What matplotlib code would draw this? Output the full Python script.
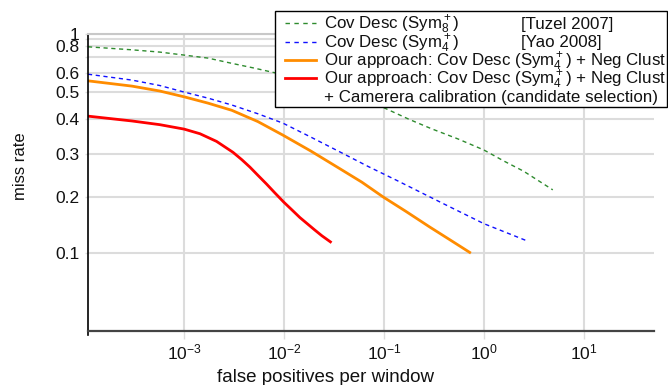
import matplotlib
matplotlib.use("Agg")
import matplotlib.pyplot as plt
import numpy as np
from matplotlib.lines import Line2D
from matplotlib.patches import Rectangle
from matplotlib.ticker import FixedLocator, FixedFormatter

plt.rcParams.update({
    "font.family": ["Liberation Sans", "DejaVu Sans"],
    "mathtext.fontset": "custom",
    "mathtext.rm": "Liberation Sans",
    "mathtext.it": "Liberation Sans:italic",
    "mathtext.bf": "Liberation Sans:bold",
})

# ── data ──────────────────────────────────────────────────────────────────────
tuzel_fppw = [1.09e-4, 3e-4, 5.7e-4, 1e-3, 1.73e-3, 3e-3, 5e-3, 8.1e-3,
              3e-2, 0.1, 0.18, 0.3, 0.55, 1.0, 1.6, 2.5, 4.9]
tuzel_miss = [0.795, 0.765, 0.743, 0.715, 0.691, 0.657, 0.628, 0.60,
              0.51, 0.44, 0.40, 0.37, 0.34, 0.31, 0.28, 0.255, 0.214]

yao_fppw = [1.09e-4, 3e-4, 5.7e-4, 1e-3, 1.73e-3, 3e-3, 5.47e-3, 9.73e-3,
            1.86e-2, 3.62e-2, 6.89e-2, 0.134, 0.404, 1.0, 2.64]
yao_miss = [0.592, 0.560, 0.532, 0.500, 0.476, 0.450, 0.419, 0.388,
            0.345, 0.305, 0.267, 0.234, 0.183, 0.144, 0.117]

neg_fppw = [1.09e-4, 3e-4, 5.7e-4, 1e-3, 1.73e-3, 3e-3, 5.47e-3, 9.73e-3,
            1.86e-2, 3.62e-2, 6.01e-2, 0.0985, 0.166, 0.288, 0.457, 0.742]
neg_miss = [0.556, 0.529, 0.505, 0.481, 0.457, 0.431, 0.393, 0.351,
            0.307, 0.261, 0.230, 0.200, 0.1675, 0.138, 0.118, 0.100]

cam_fppw = [1.09e-4, 3e-4, 5.7e-4, 1e-3, 1.44e-3, 2.11e-3, 3.08e-3, 3.78e-3,
            4.55e-3, 5.47e-3, 6.68e-3, 8.09e-3, 9.97e-3, 1.2e-2, 1.44e-2,
            2.01e-2, 2.39e-2, 2.99e-2]
cam_miss = [0.411, 0.395, 0.383, 0.369, 0.355, 0.333, 0.304, 0.284,
            0.265, 0.2454, 0.226, 0.208, 0.1875, 0.1706, 0.1553,
            0.1337, 0.124, 0.1138]

x_ticks = [1e-3, 1e-2, 1e-1, 1e0, 1e1]
x_ticklabels = ["10$^{-3}$", "10$^{-2}$", "10$^{-1}$", "10$^{0}$", "10$^{1}$"]
y_grid = [0.1, 0.2, 0.3, 0.4, 0.5, 0.6, 0.7, 0.8, 0.9, 1.0]
y_ticklabels = ["0.1", "0.2", "0.3", "0.4", "0.5", "0.6", "", "0.8", "", "1"]

# the original y axis is neither linear nor log: depth of each grid line
# below the top (1.0 -> 0, 0.1 -> -1)
y_depth = [-1.0, -0.744, -0.547, -0.390, -0.265, -0.177, -0.1038, -0.0562, -0.0229, 0.0]

GREEN = "#2e8b2e"
BLUE = "#1010ff"
ORANGE = "#ff8c00"
RED = "#ff0000"
GRID = "#dcdcdc"

W, H = 668, 385


def _pw(v, xp, fp):
    v = np.atleast_1d(np.asarray(v, float))
    out = np.interp(v, xp, fp)
    lo, hi = v < xp[0], v > xp[-1]
    out[lo] = fp[0] + (v[lo] - xp[0]) * (fp[1] - fp[0]) / (xp[1] - xp[0])
    out[hi] = fp[-1] + (v[hi] - xp[-1]) * (fp[-1] - fp[-2]) / (xp[-1] - xp[-2])
    return out


_ylog = np.log10(y_grid)


def fwd(y):
    y = np.asarray(y, float)
    return _pw(np.log10(np.clip(y, 1e-9, None)), _ylog, y_depth).reshape(y.shape)


def inv(u):
    u = np.asarray(u, float)
    return (10 ** _pw(u, y_depth, _ylog)).reshape(u.shape)


fig = plt.figure(figsize=(W / 100, H / 100), dpi=100)
ax = fig.add_axes([88 / W, 1 - 330.5 / H, (654.3 - 88) / W, (330.5 - 34) / H])
ax.set_yscale("function", functions=(fwd, inv))
ax.set_xscale("log")

ax.plot(tuzel_fppw, tuzel_miss, color=GREEN, lw=1.0, ls=(0, (3, 2.6)))
ax.plot(yao_fppw, yao_miss, color=BLUE, lw=1.0, ls=(0, (3, 2.6)))
ax.plot(neg_fppw, neg_miss, color=ORANGE, lw=2.0, solid_capstyle="butt",
        solid_joinstyle="round")
ax.plot(cam_fppw, cam_miss, color=RED, lw=2.0, solid_capstyle="butt",
        solid_joinstyle="round")

ax.set_xlim(1.09e-4, 50.9)
ax.set_ylim(float(inv(-1.353)), 1.0)

ax.xaxis.set_major_locator(FixedLocator(x_ticks))
ax.xaxis.set_major_formatter(FixedFormatter(x_ticklabels))
ax.xaxis.set_minor_locator(FixedLocator([]))
ax.yaxis.set_major_locator(FixedLocator(y_grid))
ax.yaxis.set_major_formatter(FixedFormatter(y_ticklabels))
ax.yaxis.set_minor_locator(FixedLocator([]))

ax.grid(True, color=GRID, lw=1.5, zorder=0)
ax.set_axisbelow(True)
ax.tick_params(axis="x", length=6, width=1, color=GRID, pad=3, labelsize=12.5, labelcolor="#111111")
ax.tick_params(axis="y", length=2, width=1, color=GRID, pad=4, labelsize=12.5, labelcolor="#111111")

ax.spines["right"].set_visible(False)
ax.spines["top"].set_color("#c8c8c8")
ax.spines["top"].set_linewidth(1.5)
ax.spines["left"].set_color("black")
ax.spines["left"].set_linewidth(1.2)
ax.spines["left"].set_bounds(float(inv(-1.373)), 1.0)
ax.spines["bottom"].set_color("#444444")
ax.spines["bottom"].set_linewidth(1.6)

ax.set_xlabel("false positives per window", fontsize=13.5, color="#111111")
ax.xaxis.label.set_va("center")
ax.xaxis.set_label_coords((325.6 - 88) / (654.3 - 88), -(377 - 330.5) / (330.5 - 34))
ax.set_ylabel("miss rate", fontsize=12, color="#111111")
ax.yaxis.label.set_va("center")
ax.yaxis.set_label_coords((20 - 88) / (654.3 - 88), (330.5 - 166.5) / (330.5 - 34))

# ── legend box, drawn by hand (it has a citation column and a wrapped row) ──
fx = lambda px: px / W
fy = lambda py: 1 - py / H
fig.add_artist(Rectangle((fx(275), fy(107)), fx(667) - fx(275), fy(11) - fy(107),
                         transform=fig.transFigure, facecolor="white",
                         edgecolor="black", lw=1.0, zorder=5))

legend_rows = [
    (GREEN, 1.0, (0, (3.2, 3.2)), r"Cov Desc ($\mathregular{Sym}_8^+$)", "[Tuzel 2007]"),
    (BLUE, 1.0, (0, (3.2, 3.2)), r"Cov Desc ($\mathregular{Sym}_4^+$)", "[Yao 2008]"),
    (ORANGE, 2.0, "-", r"Our approach: Cov Desc ($\mathregular{Sym}_4^+$) + Neg Clust", ""),
    (RED, 2.0, "-", r"Our approach: Cov Desc ($\mathregular{Sym}_4^+$) + Neg Clust", ""),
    (None, 0, "-", "+ Camerera calibration (candidate selection)", ""),
]
row_y = [23.3, 41.7, 60.0, 78.3, 96.7]
for (col, lw, ls, label, cite), yc in zip(legend_rows, row_y):
    if col is not None:
        fig.add_artist(Line2D([fx(285), fx(316)], [fy(yc), fy(yc)], color=col, lw=lw,
                              ls=ls, transform=fig.transFigure, zorder=6))
    fig.text(fx(324), fy(yc + 5.7), label, fontsize=12.2, color="#111111",
             va="baseline", ha="left", zorder=6)
    if cite:
        fig.text(fx(521), fy(yc + 5.7), cite, fontsize=12.2, color="#111111",
                 va="baseline", ha="left", zorder=6)

fig.savefig("out.png", dpi=100)
